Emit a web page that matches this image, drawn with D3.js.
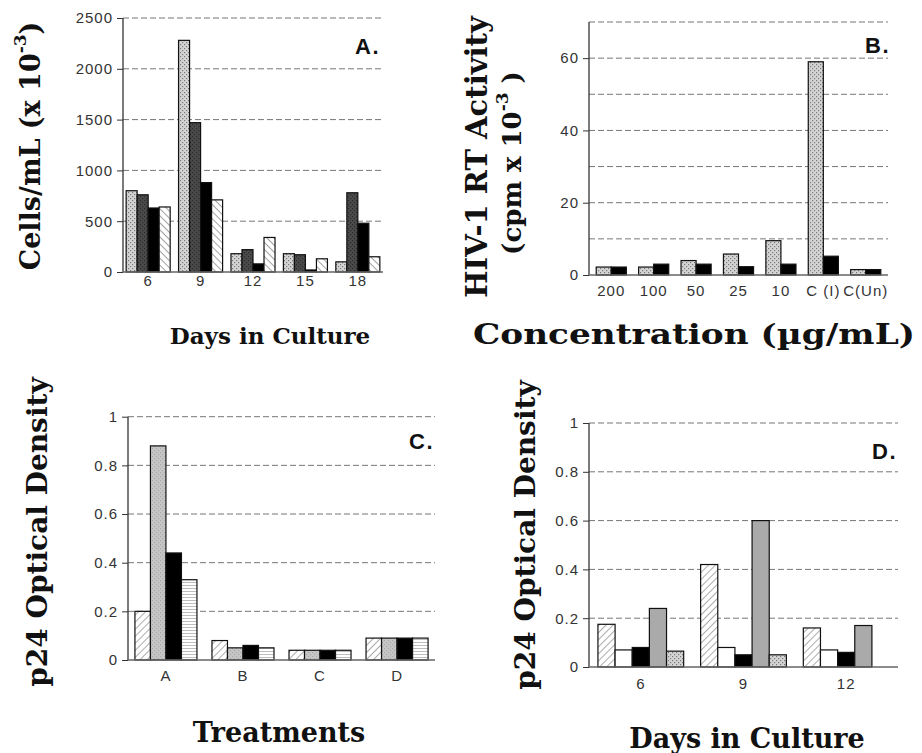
<!DOCTYPE html>
<html>
<head>
<meta charset="utf-8">
<script src="https://cdn.jsdelivr.net/npm/d3@7/dist/d3.min.js"></script>
<style>
  html, body { margin: 0; padding: 0; background: #fff; }
  svg { display: block; }
  .tick-label { font-family: "Liberation Sans", Arial, sans-serif; font-size: 15px; letter-spacing: 1px; fill: #333; }
  .title { font-family: "DejaVu Serif", "Liberation Serif", serif; font-weight: bold; fill: #111; }
  .letter { font-family: "Liberation Sans", Arial, sans-serif; font-weight: bold; font-size: 22px; letter-spacing: 1.5px; fill: #111; }
</style>
</head>
<body>
<svg id="fig" width="922" height="753"></svg>
<script>
// ---- Panel A: cell counts by day in culture ----
const daysA = ["6", "9", "12", "15", "18"];
const cellsS1 = [800, 2280, 180, 180, 100];
const cellsS2 = [760, 1470, 220, 170, 780];
const cellsS3 = [630, 880, 80, 20, 480];
const cellsS4 = [640, 710, 340, 130, 150];
const ticksA = [0, 500, 1000, 1500, 2000, 2500];

// ---- Panel B: HIV-1 RT activity by concentration ----
const concB = ["200", "100", "50", "25", "10", "C (I)", "C(Un)"];
const rtS1 = [2.2, 2.2, 4, 5.8, 9.5, 59, 1.5];
const rtS2 = [2.2, 3, 3, 2.3, 3, 5.2, 1.5];
const ticksB = [0, 20, 40, 60];
const gridB = [10, 20, 30, 40, 50, 60, 70];

// ---- Panel C: p24 optical density by treatment ----
const treatC = ["A", "B", "C", "D"];
const odC1 = [0.20, 0.08, 0.04, 0.09];
const odC2 = [0.88, 0.05, 0.04, 0.09];
const odC3 = [0.44, 0.06, 0.04, 0.09];
const odC4 = [0.33, 0.05, 0.04, 0.09];

// ---- Panel D: p24 optical density by day in culture ----
const daysD = ["6", "9", "12"];
const odD1 = [0.175, 0.42, 0.16];
const odD2 = [0.07, 0.08, 0.07];
const odD3 = [0.08, 0.05, 0.06];
const odD4 = [0.24, 0.60, 0.17];
const odD5 = [0.065, 0.05, 0];
const ticksOD = [0, 0.2, 0.4, 0.6, 0.8, 1];

const svg = d3.select("#fig");
const defs = svg.append("defs");

// Fill textures used for the bar series
function speckle(id, bg, dot) {
  const p = defs.append("pattern").attr("id", id).attr("patternUnits", "userSpaceOnUse")
    .attr("width", 4).attr("height", 4);
  p.append("rect").attr("width", 4).attr("height", 4).attr("fill", bg);
  p.append("rect").attr("x", 0).attr("y", 0).attr("width", 1.2).attr("height", 1.2).attr("fill", dot);
  p.append("rect").attr("x", 2).attr("y", 2).attr("width", 1.2).attr("height", 1.2).attr("fill", dot);
}
function hatch(id, angle, color, gap) {
  const p = defs.append("pattern").attr("id", id).attr("patternUnits", "userSpaceOnUse")
    .attr("width", gap).attr("height", gap).attr("patternTransform", `rotate(${angle})`);
  p.append("rect").attr("width", gap).attr("height", gap).attr("fill", "#fff");
  p.append("line").attr("x1", 0).attr("y1", 0).attr("x2", 0).attr("y2", gap)
    .attr("stroke", color).attr("stroke-width", 1.1);
}
speckle("speckLight", "#d4d4d4", "#7a7a7a");
speckle("speckDark", "#4a4a4a", "#2a2a2a");
speckle("greyFine", "#c6c6c6", "#aaaaaa");
hatch("hatchBack", -45, "#555", 5);
hatch("hatchFwd", 45, "#666", 5);
hatch("stripes", 90, "#888", 3);

function panel(cfg) {
  const g = svg.append("g");
  const x = d3.scaleBand().domain(cfg.cats).range(cfg.xr)
    .paddingInner(cfg.padIn).paddingOuter(cfg.padOut);
  const y = d3.scaleLinear().domain(cfg.ydom).range(cfg.yr);
  const xs = d3.scaleBand().domain(d3.range(cfg.series.length)).range([0, x.bandwidth()]);

  // dashed horizontal grid
  g.selectAll(".grid").data(cfg.grid).join("line")
    .attr("x1", cfg.xr[0]).attr("x2", cfg.xr[1])
    .attr("y1", d => y(d)).attr("y2", d => y(d))
    .attr("stroke", "#777").attr("stroke-width", 1).attr("stroke-dasharray", "6,3");

  // y axis using d3.axisLeft
  const yAxis = d3.axisLeft(y).tickValues(cfg.ticks).tickSize(6).tickPadding(4)
    .tickFormat(cfg.fmt || (d => d));
  const ga = g.append("g").attr("transform", `translate(${cfg.xr[0]},0)`).call(yAxis);
  ga.select(".domain").attr("stroke", "#333").attr("stroke-width", 1.3)
    .attr("d", `M0,${y(cfg.ydom[1])}V${y(0)}`);
  ga.selectAll(".tick line").attr("stroke", "#333");
  ga.selectAll(".tick text").attr("class", "tick-label").attr("fill", "#333");

  // bars
  cfg.series.forEach((vals, si) => {
    g.append("g").selectAll("rect").data(vals).join("rect")
      .attr("x", (d, i) => x(cfg.cats[i]) + xs(si))
      .attr("y", d => y(d))
      .attr("width", xs.bandwidth())
      .attr("height", d => y(0) - y(d))
      .attr("fill", cfg.fills[si])
      .attr("stroke", "#111").attr("stroke-width", 1.2);
  });

  // baseline
  g.append("line").attr("x1", cfg.xr[0]).attr("x2", cfg.xr[1])
    .attr("y1", y(0)).attr("y2", y(0)).attr("stroke", "#666").attr("stroke-width", 1.5);

  // category labels
  g.selectAll(".cat").data(cfg.cats).join("text")
    .attr("class", "tick-label")
    .attr("x", d => x(d) + x.bandwidth() / 2)
    .attr("y", cfg.catY)
    .attr("text-anchor", "middle")
    .text(d => d);

  // panel letter
  g.append("text").attr("class", "letter")
    .attr("x", cfg.letterPos[0]).attr("y", cfg.letterPos[1])
    .attr("text-anchor", "end").text(cfg.letter);
  return g;
}

panel({
  cats: daysA, xr: [123, 383], padIn: 0.16, padOut: 0.06,
  ydom: [0, 2500], yr: [272, 18], ticks: ticksA, grid: ticksA.slice(1),
  series: [cellsS1, cellsS2, cellsS3, cellsS4],
  fills: ["url(#speckLight)", "url(#speckDark)", "#000", "url(#hatchBack)"],
  catY: 286, letter: "A.", letterPos: [380, 54]
});
panel({
  cats: concB, xr: [589, 888], padIn: 0.29, padOut: 0.17,
  ydom: [0, 70], yr: [275, 22], ticks: ticksB, grid: gridB,
  series: [rtS1, rtS2],
  fills: ["url(#speckLight)", "#000"],
  catY: 296, letter: "B.", letterPos: [890, 53]
});
panel({
  cats: treatC, xr: [128, 435], padIn: 0.195, padOut: 0.09,
  ydom: [0, 1], yr: [660, 416.7], ticks: ticksOD, grid: ticksOD.slice(1),
  series: [odC1, odC2, odC3, odC4],
  fills: ["url(#hatchFwd)", "url(#greyFine)", "#000", "url(#stripes)"],
  catY: 681, letter: "C.", letterPos: [434, 449]
});
panel({
  cats: daysD, xr: [589, 898], padIn: 0.165, padOut: 0.087,
  ydom: [0, 1], yr: [667, 423], ticks: ticksOD, grid: ticksOD.slice(1),
  series: [odD1, odD2, odD3, odD4, odD5],
  fills: ["url(#hatchFwd)", "#fff", "#000", "#aaaaaa", "url(#speckLight)"],
  catY: 689, letter: "D.", letterPos: [897, 459]
});

// axis titles
function vTitle(cx, cy, size) {
  return svg.append("text").attr("class", "title")
    .attr("transform", `translate(${cx},${cy}) rotate(-90)`)
    .attr("text-anchor", "middle").attr("dominant-baseline", "central")
    .style("font-size", size + "px");
}
const tA = vTitle(30, 146, 27);
tA.append("tspan").text("Cells/mL (x 10");
tA.append("tspan").attr("dy", -10).style("font-size", "17px").text("-3");
tA.append("tspan").attr("dy", 10).text(")");

vTitle(477, 157, 29).text("HIV-1 RT Activity");
const tB2 = vTitle(512, 163, 26);
tB2.append("tspan").text("(cpm x 10");
tB2.append("tspan").attr("dy", -10).style("font-size", "17px").text("-3");
tB2.append("tspan").attr("dy", 10).text(" )");

vTitle(37, 532, 28).text("p24 Optical Density");
vTitle(525, 535, 28).text("p24 Optical Density");

function hTitle(x, y, size, anchor) {
  return svg.append("text").attr("class", "title")
    .attr("x", x).attr("y", y).attr("text-anchor", anchor)
    .style("font-size", size + "px");
}
hTitle(270, 344, 23, "middle").text("Days in Culture");
hTitle(473, 344, 27, "start")
  .attr("textLength", 442).attr("lengthAdjust", "spacingAndGlyphs")
  .text("Concentration (\u00b5g/mL)");
hTitle(279, 742, 27, "middle").text("Treatments");
hTitle(747, 748, 27, "middle").text("Days in Culture");
</script>
</body>
</html>
